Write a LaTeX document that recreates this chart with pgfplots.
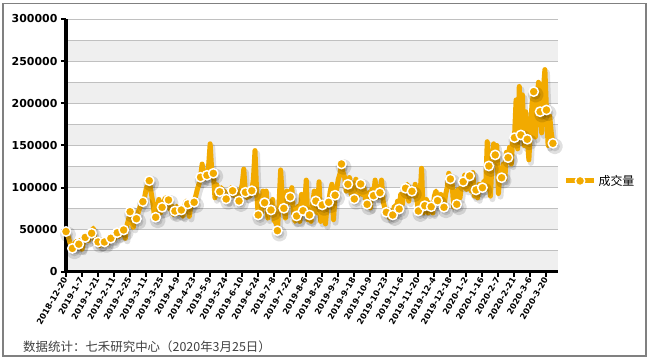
\documentclass[border=0pt]{standalone}
\usepackage{pgfplots}
\pgfplotsset{compat=1.18}
\usepackage{pgfplotstable}
\usepackage{fontspec}
\setmainfont{DejaVu Sans}
\newfontfamily\cjk{Noto Sans CJK SC}
\definecolor{ora}{RGB}{242,170,0}
\definecolor{band}{RGB}{239,239,239}
\definecolor{gridc}{RGB}{192,192,192}
\definecolor{framec}{RGB}{128,128,128}

\pgfplotstableread{
v
48000
44000
38000
31000
28000
30000
36000
29000
33000
38000
27000
36000
41000
44000
37000
48000
46000
52000
38000
33000
35600
31000
38000
32000
35600
37000
33000
41000
40000
44000
38000
47000
46600
42000
51000
44000
49800
40000
55000
62000
71500
60000
53000
67000
63200
70000
76000
80000
83400
88000
98000
104000
108300
96000
85000
70000
64900
78000
86000
70000
76700
82000
88000
80000
85400
74000
79000
68000
72300
78000
69000
76000
73500
66000
78000
84000
80600
66000
80000
84000
82700
90000
98000
104000
112300
128000
110000
118000
114700
125000
152000
120000
117000
88000
104000
98000
95200
100000
90000
96000
86600
84000
92000
100000
96400
90000
98000
88000
84200
96000
104000
122000
94500
88000
92000
90000
96400
110000
144000
96000
67600
90000
70000
96000
82200
96000
64000
78000
73500
86000
60000
64000
49000
80000
121000
90000
75500
64000
96000
82000
89000
100000
70000
60000
66400
78000
60000
92000
72700
80000
109000
62000
67600
60000
80000
96000
84200
70000
107000
60000
79500
70000
57000
78000
82700
96000
104000
62000
91000
98000
110000
116000
128100
118000
112000
96000
104000
112000
92000
100000
86600
110000
90000
96000
104400
92000
100000
86000
80300
94000
76000
98000
90500
109000
88000
90000
94100
109000
84000
76000
70800
74000
64000
72000
67600
78000
70000
84000
74700
92000
80000
96000
99300
104000
84000
100000
95700
90000
104000
86000
72300
88000
123000
70000
78600
86000
70000
82000
77400
70000
90000
96000
84600
82000
92000
80000
76700
92000
100000
117000
110300
108000
77000
96000
80300
98000
88000
104000
107100
115000
98000
108000
113900
96000
118000
90000
97300
88000
104000
96000
100000
108000
98000
154500
125700
90000
130000
152000
138800
150000
93000
118000
111800
128000
110000
142000
135600
148000
128000
160000
159300
204000
146000
220000
162500
210000
150000
190000
157400
133000
170000
200000
213900
160000
200000
225000
190100
165000
215000
240000
192100
150000
185000
165000
152600
}\data
\pgfplotstablecreatecol[expr={\pgfplotstablerow}]{x}\data

\begin{document}
\begin{tikzpicture}
\useasboundingbox (0,0) rectangle (649bp,361bp);
\fill[white] (0,0) rectangle (649bp,361bp);
\draw[framec, line width=1.5bp] (3bp,5bp) rectangle (646bp,357.7bp);
\begin{axis}[
  at={(66bp,89bp)}, anchor=south west,
  scale only axis, width=491.7bp, height=253bp,
  xmin=0, xmax=307, ymin=0, ymax=300000,
  clip=false,
  axis x line*=bottom, axis y line*=left,
  axis line style={-, line width=2.8bp, black},
  tick align=outside, tick pos=left,
  major tick length=5bp,
  every tick/.style={black, line width=2bp},
  ytick={0,50000,100000,150000,200000,250000,300000},
  scaled y ticks=false,
  yticklabel style={font=\bfseries\fontsize{11}{12}\selectfont, /pgf/number format/.cd, fixed, set thousands separator={}, assume math mode=true},
  xtick={0,10,...,300},
  xticklabels={2018-12-20,2019-1-7,2019-1-21,2019-2-11,2019-2-25,2019-3-11,2019-3-25,2019-4-9,2019-4-23,2019-5-9,2019-5-24,2019-6-10,2019-6-24,2019-7-8,2019-7-22,2019-8-6,2019-8-20,2019-9-3,2019-9-18,2019-10-9,2019-10-23,2019-11-6,2019-11-20,2019-12-4,2019-12-18,2020-1-2,2020-1-16,2020-2-7,2020-2-21,2020-3-6,2020-3-20},
  xticklabel style={font=\bfseries\fontsize{8.3}{9}\selectfont, rotate=60, anchor=east, inner sep=1.5pt},
  legend style={at={(1.0115,0.36)}, anchor=west, draw=none, fill=none, inner sep=0pt, font=\cjk\fontsize{12}{14}\selectfont},
  legend image code/.code={\draw[mark repeat=2,mark phase=2,#1] plot coordinates {(0bp,0bp) (14bp,0bp) (28bp,0bp)};},
]
\addplot[forget plot, fill=band, draw=none] coordinates {(1,1700) (307,1700) (307,25000) (1,25000)} -- cycle;
\addplot[forget plot, fill=band, draw=none] coordinates {(1,50000) (307,50000) (307,75000) (1,75000)} -- cycle;
\addplot[forget plot, fill=band, draw=none] coordinates {(1,100000) (307,100000) (307,125000) (1,125000)} -- cycle;
\addplot[forget plot, fill=band, draw=none] coordinates {(1,150000) (307,150000) (307,175000) (1,175000)} -- cycle;
\addplot[forget plot, fill=band, draw=none] coordinates {(1,200000) (307,200000) (307,225000) (1,225000)} -- cycle;
\addplot[forget plot, fill=band, draw=none] coordinates {(1,250000) (307,250000) (307,275000) (1,275000)} -- cycle;
\addplot[forget plot, gridc, line width=1bp] coordinates {(1,25000) (307,25000)};
\addplot[forget plot, gridc, line width=1bp] coordinates {(1,50000) (307,50000)};
\addplot[forget plot, gridc, line width=1bp] coordinates {(1,75000) (307,75000)};
\addplot[forget plot, gridc, line width=1bp] coordinates {(1,100000) (307,100000)};
\addplot[forget plot, gridc, line width=1bp] coordinates {(1,125000) (307,125000)};
\addplot[forget plot, gridc, line width=1bp] coordinates {(1,150000) (307,150000)};
\addplot[forget plot, gridc, line width=1bp] coordinates {(1,175000) (307,175000)};
\addplot[forget plot, gridc, line width=1bp] coordinates {(1,200000) (307,200000)};
\addplot[forget plot, gridc, line width=1bp] coordinates {(1,225000) (307,225000)};
\addplot[forget plot, gridc, line width=1bp] coordinates {(1,250000) (307,250000)};
\addplot[forget plot, gridc, line width=1bp] coordinates {(1,275000) (307,275000)};
\addplot[forget plot, gridc, line width=1bp] coordinates {(1,300000) (307,300000)};
\draw[black, line width=3bp] (axis cs:0,300000) -- (axis cs:0,0) -- (axis cs:307,0);
\addplot[forget plot, draw=black, opacity=0.12, line width=6bp, line join=round, xshift=2bp, yshift=-3bp, mark=*, mark repeat=4, mark phase=1, mark size=5bp, mark options={solid, fill=black, draw=none}]
  table[x=x, y=v] {\data};
\addplot[ora, line width=5bp, line join=round, mark=*, mark repeat=4, mark phase=1, mark size=4.7bp, mark options={solid, fill=ora, draw=white, line width=1.5bp}]
  table[x=x, y=v] {\data};
\addlegendentry{成交量}
\end{axis}
\node[anchor=west, inner sep=0pt, text=black!75, font=\cjk\fontsize{12.5}{14}\selectfont] at (23bp,14.3bp) {数据统计：七禾研究中心（2020年3月25日）};
\end{tikzpicture}
\end{document}
